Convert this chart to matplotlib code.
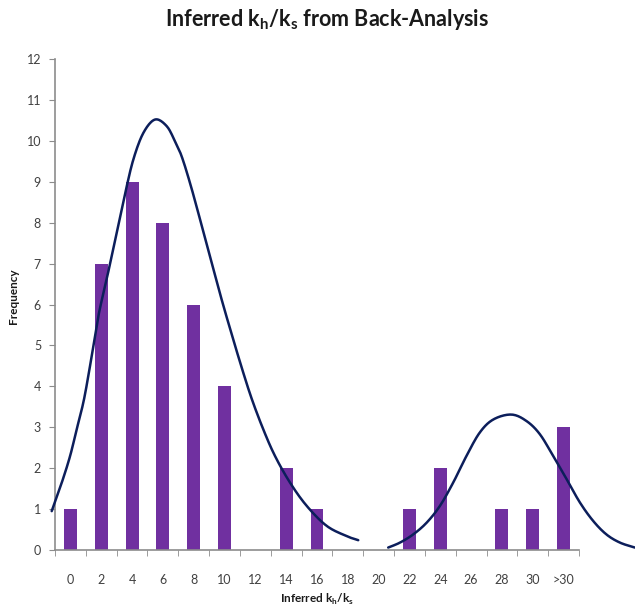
import matplotlib
matplotlib.use("Agg")
import matplotlib.pyplot as plt
import numpy as np

categories = ["0", "2", "4", "6", "8", "10", "12", "14", "16", "18", "20",
              "22", "24", "26", "28", "30", ">30"]
frequency = [1, 7, 9, 8, 6, 4, 0, 2, 1, 0, 0, 1, 2, 0, 1, 1, 3]

# fitted curves (x in category-index units)
curve1_x = [-0.607, -0.283, -0.013, 0.204, 0.418, 0.580, 0.742, 0.885, 1.015,
            1.229, 1.501, 1.771, 2.040, 2.364, 2.744, 3.123, 3.392, 3.61, 3.88,
            4.148, 4.527, 4.907, 5.23, 5.556, 5.88, 6.256, 6.636, 7.122, 7.664,
            8.313, 8.96, 9.338]
curve1_y = [0.95, 1.64, 2.29, 2.95, 3.60, 4.25, 4.98, 5.63, 6.10,
            6.80, 7.75, 8.70, 9.54, 10.19, 10.52, 10.36, 9.99, 9.62, 8.97,
            8.24, 7.18, 6.12, 5.28, 4.46, 3.70, 2.95, 2.30, 1.65, 1.08,
            0.59, 0.34, 0.24]
curve2_x = [10.31, 10.69, 11.12, 11.56, 11.99, 12.42, 12.85, 13.28, 13.72, 14.31,
            14.80, 15.23, 15.66, 16.10, 16.53, 16.96, 17.39, 17.83, 18.31]
curve2_y = [0.06, 0.18, 0.38, 0.67, 1.08, 1.65, 2.30, 2.87, 3.19, 3.31,
            3.15, 2.83, 2.30, 1.73, 1.16, 0.71, 0.38, 0.18, 0.06]

plt.rcParams['font.family'] = ['Lato', 'DejaVu Sans']
plt.rcParams['mathtext.fontset'] = 'custom'
plt.rcParams['mathtext.rm'] = 'Lato'
plt.rcParams['mathtext.bf'] = 'Lato:bold'

fig = plt.figure(figsize=(6.35, 6.07), dpi=100)
W, H = 635, 607
ax = fig.add_axes([55 / W, 1 - 550 / H, (579 - 55) / W, (550 - 59) / H])

x = np.arange(len(categories))
ax.bar(x, frequency, width=0.42, color="#7030A0", zorder=2)


def smooth(xs, ys, n=12):
    xs = np.asarray(xs, float)
    ys = np.asarray(ys, float)
    # centripetal-free Catmull-Rom through the read points
    px = np.concatenate([[2 * xs[0] - xs[1]], xs, [2 * xs[-1] - xs[-2]]])
    py = np.concatenate([[2 * ys[0] - ys[1]], ys, [2 * ys[-1] - ys[-2]]])
    ox, oy = [], []
    for i in range(1, len(px) - 2):
        t = np.linspace(0, 1, n, endpoint=False)
        for p, o in ((px, ox), (py, oy)):
            p0, p1, p2, p3 = p[i - 1], p[i], p[i + 1], p[i + 2]
            o.extend(0.5 * ((2 * p1) + (-p0 + p2) * t
                            + (2 * p0 - 5 * p1 + 4 * p2 - p3) * t ** 2
                            + (-p0 + 3 * p1 - 3 * p2 + p3) * t ** 3))
    ox.append(xs[-1]); oy.append(ys[-1])
    return ox, oy


for cx, cy in ((curve1_x, curve1_y), (curve2_x, curve2_y)):
    sx, sy = smooth(cx, cy)
    ax.plot(sx, sy, color="#0C1E5B", lw=1.8, zorder=3, clip_on=False,
            solid_capstyle="round")

ax.set_xlim(-0.5, len(categories) - 0.5)
ax.set_ylim(0, 12)
ax.set_yticks(range(0, 13))
ax.set_xticks(x)
ax.set_xticklabels(categories)
ax.set_xticks(np.arange(-0.5, len(categories) + 0.5, 1), minor=True)

for s in ("top", "right"):
    ax.spines[s].set_visible(False)
for s in ("left", "bottom"):
    ax.spines[s].set_color("#8C8C8C")
    ax.spines[s].set_linewidth(1.2)

ax.tick_params(axis="y", direction="out", length=4, color="#8C8C8C",
               labelsize=9, labelcolor="#404040", pad=6)
ax.tick_params(axis="x", which="major", length=0, labelsize=9,
               labelcolor="#404040", pad=17)
ax.tick_params(axis="x", which="minor", direction="out", length=4,
               color="#8C8C8C")

fig.text(327 / W, 1 - 20 / H,
         r"Inferred k$_\mathbf{h}$/k$_\mathbf{s}$ from Back-Analysis",
         ha="center", va="center", fontsize=15.5, fontweight="bold",
         color="#1A1A1A")
fig.text(317 / W, 1 - 599 / H, r"Inferred k$_\mathbf{h}$/k$_\mathbf{s}$",
         ha="center", va="center", fontsize=8.5, fontweight="bold",
         color="#1A1A1A")
fig.text(13 / W, 1 - 296 / H, "Frequency", rotation=90, ha="center",
         va="center", fontsize=8.5, fontweight="bold", color="#1A1A1A")

fig.savefig("out.png", dpi=100)
